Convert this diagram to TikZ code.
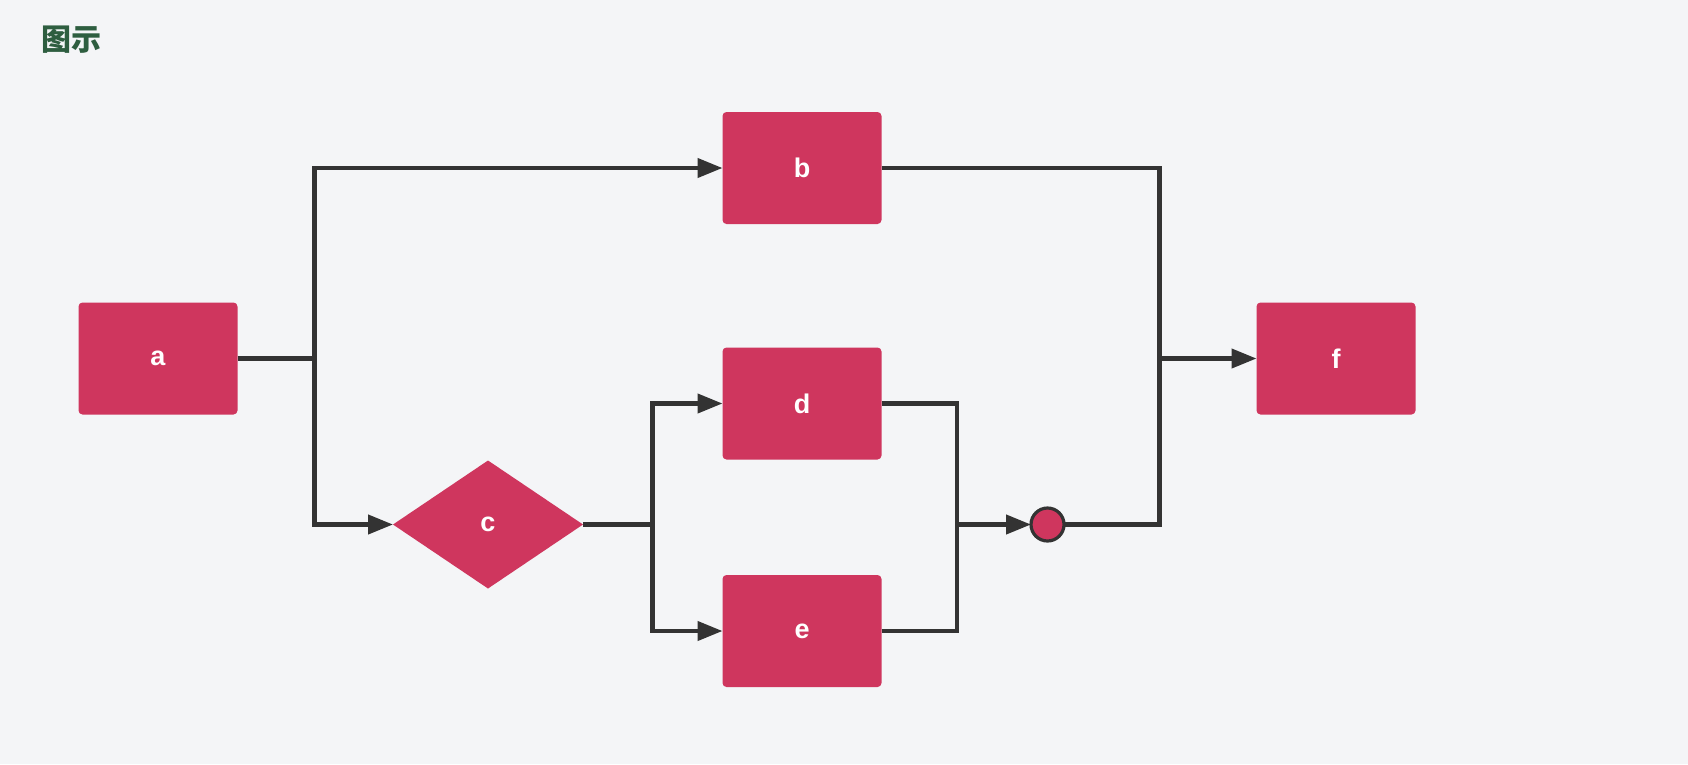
\documentclass[tikz,border=0pt]{standalone}
\usepackage{fontspec}
\setmainfont{Liberation Sans}
\newfontfamily\cjk{Noto Sans CJK SC}
\usetikzlibrary{shapes.geometric,arrows.meta}
\definecolor{bgcol}{HTML}{F4F5F7}
\definecolor{boxcol}{HTML}{CF365E}
\definecolor{linecol}{HTML}{333333}
\definecolor{titlecol}{HTML}{2E5E40}
\tikzset{
>={Triangle[length=25pt,width=19pt]},
link/.style={line width=4.2pt, draw=linecol},
}

\begin{document}
\begin{tikzpicture}
    [x=1pt, y=-1pt,
    task/.style={rectangle, rounded corners=4pt, fill=boxcol,
        minimum width=159pt, minimum height=112pt, inner sep=0pt, outer sep=0pt,
        text=white, font=\bfseries\fontsize{27}{30}\selectfont},
    choice/.style={diamond, fill=boxcol, aspect=1.49,
        minimum width=190pt, minimum height=128pt, inner sep=0pt, outer sep=0pt,
        text=white, font=\bfseries\fontsize{27}{30}\selectfont},
    merge/.style={circle, fill=boxcol, draw=linecol, line width=3.2pt,
        minimum size=33pt, inner sep=0pt, outer sep=0pt}
    ]
    \fill[bgcol] (0,0) rectangle (1688,764);
    \useasboundingbox (0,0) rectangle (1688,764);

    \node [text=titlecol, font=\cjk\bfseries\fontsize{30}{34}\selectfont] (title) at (71,40) {图示};

    \node [task] (a) at (158,358.5) {a};
    \node [task] (b) at (802,168) {b};
    \node [choice] (c) at (488,524.5) {c};
    \node [task] (d) at (802,403.5) {d};
    \node [task] (e) at (802,631) {e};
    \node [merge] (m) at (1047.5,524.5) {};
    \node [task] (f) at (1336,358.5) {f};

    % junctions
    \coordinate (ja) at (314.5,358.5);
    \coordinate (jc) at (652.5,524.5);
    \coordinate (jde) at (957,524.5);
    \coordinate (jf) at (1159.5,358.5);

    \draw[link] (a) -- (ja);
    \draw[link, ->] (ja) |- (b);
    \draw[link, ->] (ja) |- (c);
    \draw[link] (c) -- (jc);
    \draw[link, ->] (jc) |- (d);
    \draw[link, ->] (jc) |- (e);
    \draw[link] (d) -| (jde);
    \draw[link] (e) -| (jde);
    \draw[link, ->] (jde) -- (m);
    \draw[link] (b) -| (jf);
    \draw[link] (m) -| (jf);
    \draw[link, ->] (jf) -- (f);

\end{tikzpicture}
\end{document}
